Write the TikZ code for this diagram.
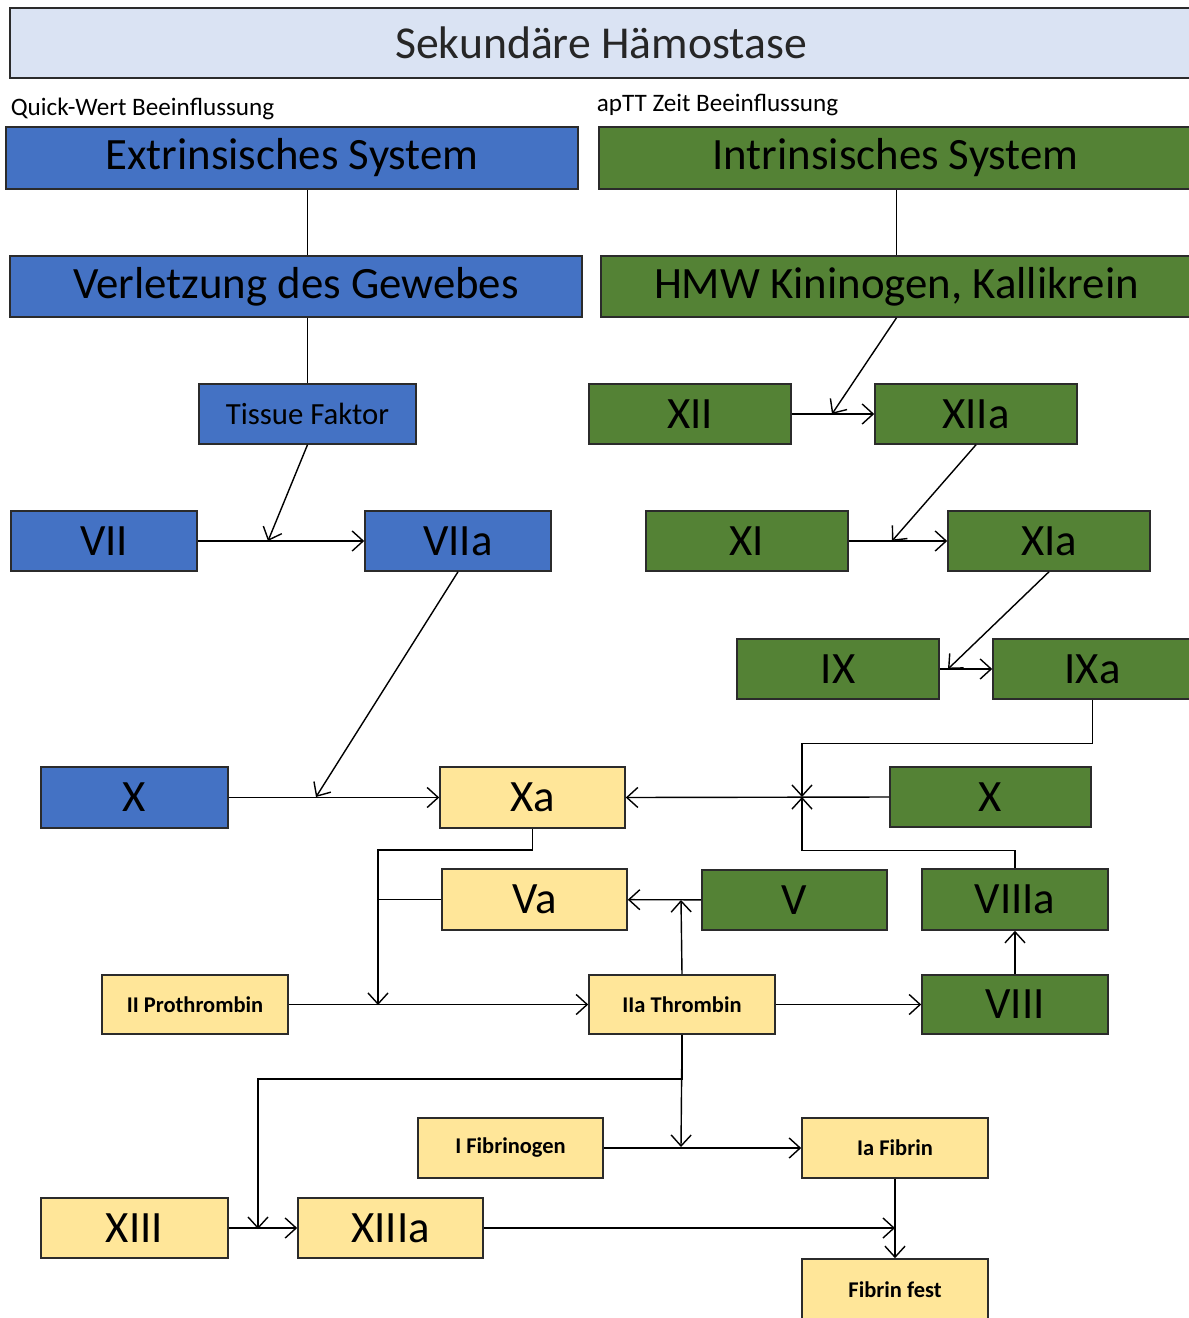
\documentclass[tikz,border=0pt]{standalone}
\usepackage{fontspec}
\setmainfont{Carlito}
\usetikzlibrary{arrows.meta}

\definecolor{titlefill}{HTML}{DAE3F3}
\definecolor{extblue}{HTML}{4472C4}
\definecolor{intgreen}{HTML}{548235}
\definecolor{factyellow}{HTML}{FFE699}
\definecolor{edgegray}{HTML}{2B2B2B}

\begin{document}
\begin{tikzpicture}[x=0.02cm, y=-0.02cm,
  every node/.style = {shape=rectangle, draw=edgegray, line width=0.9pt,
    inner sep=0pt, align=center, minimum height=1.2cm},
  wd/.style = {minimum width=#1*0.02cm},
  ht/.style = {minimum height=#1*0.02cm},
  extbox/.style = {fill=extblue, font=\fontsize{25.5}{29}\selectfont},
  intbox/.style = {fill=intgreen, font=\fontsize{25.5}{29}\selectfont},
  facbox/.style = {fill=factyellow, font=\fontsize{25.5}{29}\selectfont},
  smallbox/.style = {fill=factyellow, font=\fontsize{12.8}{15}\selectfont\bfseries},
  note/.style = {draw=none, minimum height=0pt, anchor=base west,
    font=\fontsize{14.3}{17}\selectfont},
  arr/.style = {-{Straight Barb[length=2.2mm,width=4mm]}, line width=0.8pt},
  link/.style = {line width=0.8pt}]
  \useasboundingbox (0,0) rectangle (1188,1318);

  % heading
  \node[wd=1182, ht=70, fill=titlefill, font=\fontsize{26}{30}\selectfont,
    text=black!85] (title) at (601,43) {Sekundäre Hämostase};
  \node[note] (quick) at (10,115) {Quick-Wert Beeinflussung};
  \node[note] (aptt) at (596,112) {apTT Zeit Beeinflussung};

  % extrinsic path
  \node[extbox, wd=572, ht=62] (ext) at (292,158) {Extrinsisches System};
  \node[extbox, wd=572, ht=61] (verl) at (296,286.5) {Verletzung des Gewebes};
  \node[extbox, wd=217, font=\fontsize{17.5}{20}\selectfont] (tf) at (307.5,414) {Tissue Faktor};
  \node[extbox, wd=186] (vii) at (104,541) {VII};
  \node[extbox, wd=186] (viia) at (458,541) {VIIa};
  \node[extbox, wd=187, ht=61] (xb) at (134.5,797.5) {X};

  % intrinsic path
  \node[intbox, wd=593, ht=62] (intr) at (895.5,158) {Intrinsisches System};
  \node[intbox, wd=591, ht=61] (hmw) at (896.5,286.5) {HMW Kininogen, Kallikrein};
  \node[intbox, wd=202] (xii) at (690,414) {XII};
  \node[intbox, wd=202] (xiia) at (976,414) {XIIa};
  \node[intbox, wd=202] (xi) at (747,541) {XI};
  \node[intbox, wd=202] (xia) at (1049,541) {XIa};
  \node[intbox, wd=202] (ix) at (838,669) {IX};
  \node[intbox, wd=199] (ixa) at (1092.5,669) {IXa};
  \node[intbox, wd=201] (xg) at (990.5,797) {X};
  \node[intbox, wd=185] (v) at (794.5,900) {V};
  \node[intbox, wd=186, ht=61] (viiia) at (1015,899.5) {VIIIa};
  \node[intbox, wd=186, ht=59] (viii) at (1015,1004.5) {VIII};

  % common path
  \node[facbox, wd=185, ht=61] (xa) at (532.5,797.5) {Xa};
  \node[facbox, wd=185, ht=61] (va) at (534.5,899.5) {Va};
  \node[smallbox, wd=186, ht=59] (ii) at (195,1004.5) {II Prothrombin};
  \node[smallbox, wd=186, ht=59] (iia) at (682,1004.5) {IIa Thrombin};
  \node[smallbox, wd=185] (ifib) at (510.5,1148) {I Fibrinogen};
  \node[smallbox, wd=186] (ia) at (895,1148) {Ia Fibrin};
  \node[facbox, wd=187] (xiii) at (134.5,1228) {XIII};
  \node[facbox, wd=185] (xiiia) at (390.5,1228) {XIIIa};
  \node[smallbox, wd=186, ht=61] (fest) at (895,1289.5) {Fibrin fest};

  % junctions on the arrows
  \coordinate (jvii) at (268,541);
  \coordinate (jxii) at (832,414);
  \coordinate (jxi) at (892,541);
  \coordinate (jix) at (948,669);
  \coordinate (jxb) at (316,797);
  \coordinate (jxg) at (802,797);
  \coordinate (jii) at (378,1005);
  \coordinate (jv) at (681,900);
  \coordinate (jfib) at (681,1147);
  \coordinate (jxiii) at (258,1229);

  % connectors
  \draw[link] (tf.north |- ext.south) -- (tf.north |- verl.north);
  \draw[link] (tf.north |- verl.south) -- (tf.north);
  \draw[link] (hmw.north |- intr.south) -- (hmw.north);

  \draw[arr] (vii) -- (viia);
  \draw[arr] (tf.south) -- (jvii);
  \draw[arr] (xii) -- (xiia);
  \draw[arr] (hmw.south) -- (jxii);
  \draw[arr] (xi) -- (xia);
  \draw[arr] (xiia.south) -- (jxi);
  \draw[arr] (ix) -- (ixa);
  \draw[arr] (xia.south) -- (jix);

  \draw[arr] (xb) -- (xa);
  \draw[arr] (viia.south) -- (jxb);
  \draw[arr] (xg.west) -- (xa.east);
  \draw[arr] (ixa.south) -- ++(0,44) -| (jxg);
  \draw[arr] (viiia.north) -- ++(0,-18) -| (jxg);

  \draw[arr] (xa.south) -- ++(0,21) -| (jii);
  \draw[link] (va.west) -- (va.west -| jii);
  \draw[arr] (v) -- (va);
  \draw[arr] (iia.north) -- (jv);
  \draw[arr] (ii) -- (iia);
  \draw[arr] (iia) -- (viii);
  \draw[arr] (viii) -- (viiia);

  \draw[arr] (iia.south) -- ++(0,44) -| (jxiii);
  \draw[arr] (iia.south) -- (jfib);
  \draw[arr] (ifib) -- (ia);
  \draw[arr] (xiii) -- (xiiia);
  \draw[arr] (xiiia.east) -- (xiiia.east -| ia.south);
  \draw[arr] (ia) -- (fest);
\end{tikzpicture}
\end{document}
